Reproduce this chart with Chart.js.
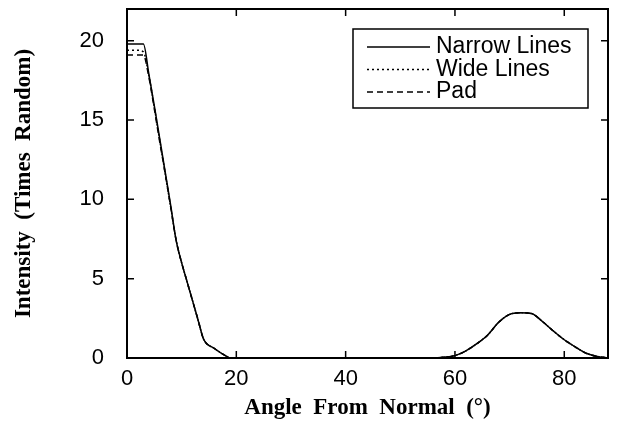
<!DOCTYPE html>
<html>
<head>
<meta charset="utf-8">
<script src="https://cdn.jsdelivr.net/npm/chart.js@4"></script>
<style>
  html, body { margin: 0; padding: 0; background: #fff; }
  #wrap { width: 629px; height: 425px; }
</style>
</head>
<body>
<div id="wrap"><canvas id="graphique" width="629" height="425"></canvas></div>
<script>
// angle from normal (deg)
const angles = [0, 1, 2, 3, 4, 5, 6, 7, 8, 9, 10, 11, 12, 13, 14, 16, 18, 19, 56, 58, 60, 62, 64, 66, 68, 70, 72, 74, 76, 78, 80, 82, 84, 86, 88];
// intensity (times random)
const narrowLines = [19.8, 19.8, 19.8, 19.8, 17.9, 15.9, 13.8, 11.7, 9.6, 7.4, 6.0, 4.8, 3.6, 2.4, 1.2, 0.6, 0.15, 0, 0, 0.05, 0.15, 0.45, 0.9, 1.45, 2.25, 2.75, 2.85, 2.8, 2.3, 1.7, 1.15, 0.7, 0.3, 0.1, 0];
const wideLines   = [19.4, 19.4, 19.4, 19.3, 17.8, 15.8, 13.7, 11.6, 9.5, 7.4, 6.0, 4.8, 3.6, 2.4, 1.2, 0.6, 0.15, 0, 0, 0.05, 0.15, 0.45, 0.9, 1.45, 2.25, 2.75, 2.85, 2.8, 2.3, 1.7, 1.15, 0.7, 0.3, 0.1, 0];
const pad         = [19.1, 19.1, 19.1, 19.1, 17.7, 15.7, 13.6, 11.6, 9.5, 7.4, 6.0, 4.8, 3.6, 2.4, 1.2, 0.6, 0.15, 0, 0, 0.05, 0.15, 0.45, 0.9, 1.45, 2.25, 2.75, 2.85, 2.8, 2.3, 1.7, 1.15, 0.7, 0.3, 0.1, 0];

const xTicks = [0, 20, 40, 60, 80];
const yTicks = [0, 5, 10, 15, 20];
const seriesNames = ["Narrow Lines", "Wide Lines", "Pad"];
const seriesDash = [[], [2, 3], [6, 4]];

const toPoints = (ys) => angles.map((a, i) => ({ x: a, y: ys[i] }));

// frame, inner ticks and legend box
const framePlugin = {
  id: "frame",
  afterDraw(chart) {
    const ctx = chart.ctx;
    const a = chart.chartArea;
    const xs = chart.scales.x, ys = chart.scales.y;
    ctx.save();
    ctx.strokeStyle = "#000";
    ctx.lineWidth = 2;
    ctx.strokeRect(a.left, a.top, a.right - a.left, a.bottom - a.top);
    ctx.lineWidth = 1.5;
    ctx.beginPath();
    xTicks.forEach((v) => {
      const px = xs.getPixelForValue(v);
      ctx.moveTo(px, a.bottom); ctx.lineTo(px, a.bottom - 7);
      ctx.moveTo(px, a.top); ctx.lineTo(px, a.top + 7);
    });
    yTicks.forEach((v) => {
      const py = ys.getPixelForValue(v);
      ctx.moveTo(a.left, py); ctx.lineTo(a.left + 7, py);
      ctx.moveTo(a.right, py); ctx.lineTo(a.right - 7, py);
    });
    ctx.stroke();

    // legend
    const bx = 353, by = 29, bw = 235, bh = 79;
    ctx.fillStyle = "#fff";
    ctx.fillRect(bx, by, bw, bh);
    ctx.lineWidth = 1.5;
    ctx.strokeRect(bx, by, bw, bh);
    ctx.font = "23px 'Liberation Sans', Arial, sans-serif";
    ctx.textBaseline = "middle";
    ctx.fillStyle = "#000";
    seriesNames.forEach((name, i) => {
      const y = by + 18 + i * 22.5;
      ctx.beginPath();
      ctx.setLineDash(seriesDash[i]);
      ctx.lineWidth = 1.3;
      ctx.moveTo(367, y);
      ctx.lineTo(430, y);
      ctx.stroke();
      ctx.setLineDash([]);
      ctx.fillText(name, 436, y);
    });
    ctx.restore();
  }
};

const ctx = document.getElementById("graphique");
new Chart(ctx, {
  type: "line",
  data: {
    datasets: [
      { label: seriesNames[0], data: toPoints(narrowLines), borderDash: seriesDash[0] },
      { label: seriesNames[1], data: toPoints(wideLines), borderDash: seriesDash[1] },
      { label: seriesNames[2], data: toPoints(pad), borderDash: seriesDash[2] }
    ].map((d) => Object.assign(d, {
      borderColor: "#000",
      borderWidth: 1.5,
      pointRadius: 0,
      tension: 0,
      cubicInterpolationMode: "monotone",
      fill: false
    }))
  },
  options: {
    responsive: false,
    animation: false,
    layout: { padding: { top: 9, right: 21, left: 0, bottom: 0 } },
    plugins: { legend: { display: false }, tooltip: { enabled: false } },
    scales: {
      x: {
        type: "linear",
        min: 0,
        max: 88,
        afterFit(scale) {
          scale.height = 67;
          scale.paddingLeft = 0;
          scale.paddingRight = 0;
        },
        afterBuildTicks(scale) { scale.ticks = xTicks.map((v) => ({ value: v })); },
        grid: { display: false, drawTicks: false },
        border: { display: false },
        ticks: {
          color: "#000",
          padding: 8,
          maxRotation: 0,
          font: { family: "'Liberation Sans', Arial, sans-serif", size: 22 }
        },
        title: {
          display: true,
          text: "Angle  From  Normal  (°)",
          color: "#000",
          padding: { top: 0, bottom: 3 },
          font: { family: "'Liberation Serif', 'Times New Roman', serif", size: 23, weight: "bold" }
        }
      },
      y: {
        min: 0,
        max: 22,
        afterFit(scale) {
          scale.width = 127;
          scale.paddingTop = 0;
          scale.paddingBottom = 0;
        },
        afterBuildTicks(scale) { scale.ticks = yTicks.map((v) => ({ value: v })); },
        grid: { display: false, drawTicks: false },
        border: { display: false },
        ticks: {
          color: "#000",
          padding: 23,
          font: { family: "'Liberation Sans', Arial, sans-serif", size: 22 }
        },
        title: {
          display: true,
          text: "Intensity  (Times  Random)",
          color: "#000",
          padding: { top: 10, bottom: 0 },
          font: { family: "'Liberation Serif', 'Times New Roman', serif", size: 23, weight: "bold" }
        }
      }
    }
  },
  plugins: [framePlugin]
});
</script>
</body>
</html>
